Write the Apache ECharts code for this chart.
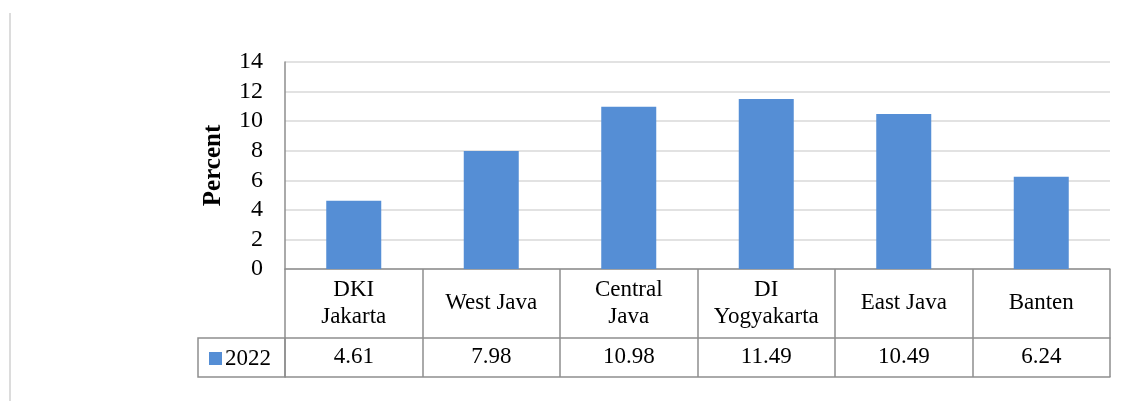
<!DOCTYPE html>
<html>
<head>
<meta charset="utf-8">
<script src="https://cdn.jsdelivr.net/npm/echarts@6/dist/echarts.min.js"></script>
<style>
  html, body { margin: 0; padding: 0; background: #fff; }
  #chart { width: 1121px; height: 401px; }
</style>
</head>
<body>
<div id="chart"></div>
<script>
// provinces (header row of the data table)
const categories = ["DKI\nJakarta", "West Java", "Central\nJava", "DI\nYogyakarta", "East Java", "Banten"];
const seriesName = "2022";
const values = [4.61, 7.98, 10.98, 11.49, 10.49, 6.24];
const yTicks = [0, 2, 4, 6, 8, 10, 12, 14];

const font = "'Liberation Serif', 'DejaVu Serif', serif";
const lineColor = "#8e8e8e";
const barColor = "#558ed5";

const chart = echarts.init(document.getElementById("chart"), null, { renderer: "canvas" });

chart.setOption({
  animation: false,
  backgroundColor: "#fff",
  grid: { left: 285, right: 11, top: 62, bottom: 132 },
  legend: {
    data: [seriesName],
    left: 204, top: 342,
    icon: "rect", itemWidth: 13, itemHeight: 13, itemGap: 5,
    textStyle: { fontFamily: font, fontSize: 23, color: "#000", padding: [0, 0, 0, -2] }
  },
  xAxis: [
    {
      type: "category",
      data: categories,
      axisLine: { show: true, lineStyle: { color: lineColor, width: 1.5 } },
      axisTick: { show: true, length: 108, lineStyle: { color: lineColor, width: 1.5 } },
      axisLabel: {
        interval: 0, margin: 34, verticalAlign: "middle",
        fontFamily: font, fontSize: 23, color: "#000", lineHeight: 27
      }
    },
    {
      type: "category",
      data: categories,
      position: "bottom",
      offset: 69,
      axisLine: { show: true, lineStyle: { color: lineColor, width: 1.5 } },
      axisTick: { show: false },
      axisLabel: {
        interval: 0, margin: 19, verticalAlign: "middle",
        fontFamily: font, fontSize: 23, color: "#000",
        formatter: (v, i) => String(values[i])
      }
    },
    {
      type: "category",
      data: categories,
      position: "bottom",
      offset: 108,
      axisLine: { show: true, lineStyle: { color: lineColor, width: 1.5 } },
      axisTick: { show: false },
      axisLabel: { show: false }
    }
  ],
  yAxis: {
    type: "value",
    min: yTicks[0], max: yTicks[yTicks.length - 1], interval: 2,
    name: "Percent",
    nameLocation: "middle", nameGap: 59, nameRotate: 90,
    nameTextStyle: { fontFamily: font, fontSize: 25, fontWeight: "bold", color: "#000" },
    axisLine: { show: true, lineStyle: { color: lineColor, width: 1.5 } },
    axisTick: { show: false },
    axisLabel: { margin: 22, fontFamily: font, fontSize: 24, color: "#000" },
    splitLine: { lineStyle: { color: "#d9d9d9", width: 1.5 } }
  },
  series: [{
    name: seriesName,
    type: "bar",
    data: values,
    barWidth: "40%",
    itemStyle: { color: barColor }
  }],
  graphic: [
    // legend cell of the data table
    { type: "rect", shape: { x: 198, y: 338, width: 87, height: 39 },
      style: { fill: "none", stroke: lineColor, lineWidth: 1.5 }, silent: true },
    // faint page rule on the left
    { type: "line", shape: { x1: 10, y1: 13, x2: 10, y2: 401 },
      style: { stroke: "#dcdcdc", lineWidth: 2 }, silent: true }
  ]
});
</script>
</body>
</html>
